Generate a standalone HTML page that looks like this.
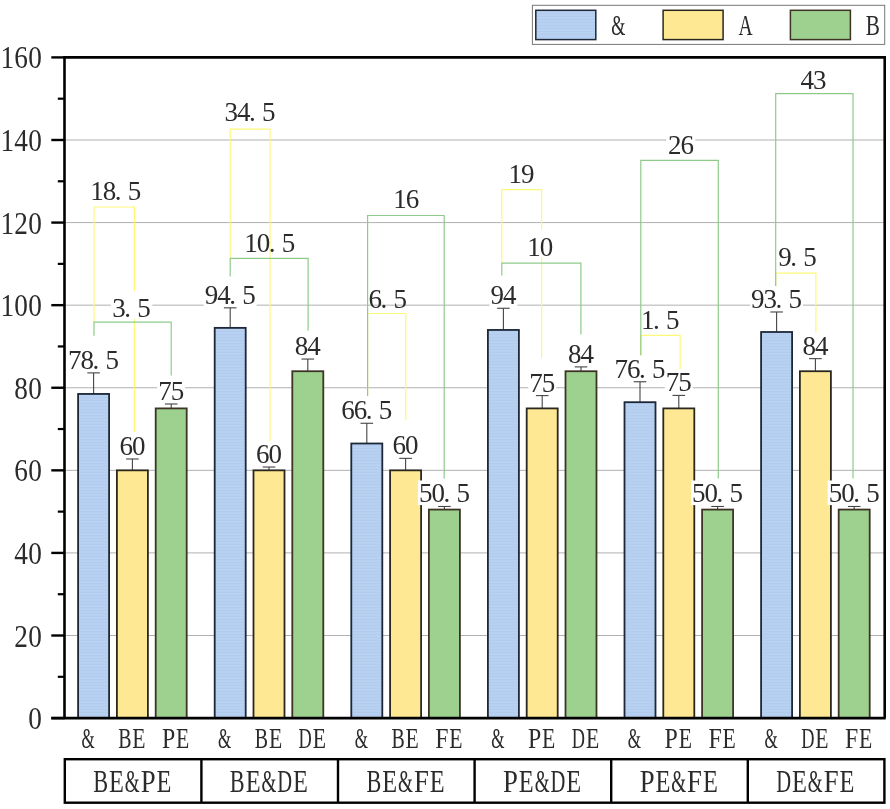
<!DOCTYPE html>
<html><head><meta charset="utf-8"><title>chart</title>
<style>html,body{margin:0;padding:0;background:#fff}svg{display:block;filter:blur(0.4px)}</style></head>
<body>
<svg width="890" height="809" viewBox="0 0 890 809" font-family="'Liberation Serif', serif">
<defs>
<pattern id="pb" width="4" height="3" patternUnits="userSpaceOnUse"><rect width="4" height="3" fill="#b9d2f2"/><path d="M0 1.5 Q1 0.5 2 1.5 T4 1.5" stroke="#a9c5ea" stroke-width="0.7" fill="none"/></pattern>
<pattern id="pg" width="4" height="4" patternUnits="userSpaceOnUse"><rect width="4" height="4" fill="#9ad28e"/><path d="M0 0H4M0 0V4" stroke="#a4cd90" stroke-width="0.8" fill="none"/></pattern>
</defs>
<rect width="890" height="809" fill="#fff"/>
<line x1="64.8" x2="884.4" y1="635.51" y2="635.51" stroke="#b0b0b0" stroke-width="1"/>
<line x1="64.8" x2="884.4" y1="552.92" y2="552.92" stroke="#b0b0b0" stroke-width="1"/>
<line x1="64.8" x2="884.4" y1="470.34" y2="470.34" stroke="#b0b0b0" stroke-width="1"/>
<line x1="64.8" x2="884.4" y1="387.75" y2="387.75" stroke="#b0b0b0" stroke-width="1"/>
<line x1="64.8" x2="884.4" y1="305.16" y2="305.16" stroke="#b0b0b0" stroke-width="1"/>
<line x1="64.8" x2="884.4" y1="222.58" y2="222.58" stroke="#b0b0b0" stroke-width="1"/>
<line x1="64.8" x2="884.4" y1="139.99" y2="139.99" stroke="#b0b0b0" stroke-width="1"/>
<path d="M94.00 322.00V207.00H134.40V432.00" fill="none" stroke="#fdf878" stroke-width="1.2"/>
<path d="M230.20 258.30V129.20H270.00V442.00" fill="none" stroke="#fdf878" stroke-width="1.2"/>
<path d="M367.60 396.00V313.50H405.80V420.00" fill="none" stroke="#fdf878" stroke-width="1.2"/>
<path d="M501.80 263.00V189.60H541.60V358.00" fill="none" stroke="#fdf878" stroke-width="1.2"/>
<path d="M640.80 355.50V335.40H680.10V373.60" fill="none" stroke="#fdf878" stroke-width="1.2"/>
<path d="M775.70 290.00V273.20H815.90V335.60" fill="none" stroke="#fdf878" stroke-width="1.2"/>
<path d="M94.00 335.80V322.20H171.20V375.50" fill="none" stroke="#8ecb8b" stroke-width="1.2"/>
<path d="M230.20 276.50V258.30H308.10V330.50" fill="none" stroke="#8ecb8b" stroke-width="1.2"/>
<path d="M367.60 396.00V215.50H444.20V478.50" fill="none" stroke="#8ecb8b" stroke-width="1.2"/>
<path d="M501.80 275.60V263.20H580.90V334.50" fill="none" stroke="#8ecb8b" stroke-width="1.2"/>
<path d="M640.80 355.50V160.40H718.30V478.50" fill="none" stroke="#8ecb8b" stroke-width="1.2"/>
<path d="M775.70 290.00V93.60H853.00V478.50" fill="none" stroke="#8ecb8b" stroke-width="1.2"/>
<line x1="93.60" x2="93.60" y1="393.94" y2="372.88" stroke="#444" stroke-width="1.1"/>
<line x1="87.30" x2="99.90" y1="372.88" y2="372.88" stroke="#444" stroke-width="1.1"/>
<rect x="78.10" y="393.94" width="31.0" height="324.16" fill="url(#pb)" stroke="#1d2738" stroke-width="1.8"/>
<rect x="67.10" y="346.88" width="53.00" height="24.6" fill="#fff"/>
<text x="74.85" y="368.88" font-size="27" text-anchor="middle" fill="#2b2b2b">7</text>
<text x="87.35" y="368.88" font-size="27" text-anchor="middle" fill="#2b2b2b">8</text>
<text x="95.98" y="368.88" font-size="27" text-anchor="middle" fill="#2b2b2b">.</text>
<text x="112.35" y="368.88" font-size="27" text-anchor="middle" fill="#2b2b2b">5</text>
<line x1="132.40" x2="132.40" y1="470.34" y2="458.98" stroke="#444" stroke-width="1.1"/>
<line x1="126.10" x2="138.70" y1="458.98" y2="458.98" stroke="#444" stroke-width="1.1"/>
<rect x="116.90" y="470.34" width="31.0" height="247.76" fill="#ffe893" stroke="#2a281e" stroke-width="1.8"/>
<rect x="118.40" y="432.98" width="28.00" height="24.6" fill="#fff"/>
<text x="126.15" y="454.98" font-size="27" text-anchor="middle" fill="#2b2b2b">6</text>
<text x="138.65" y="454.98" font-size="27" text-anchor="middle" fill="#2b2b2b">0</text>
<line x1="171.20" x2="171.20" y1="408.40" y2="403.98" stroke="#444" stroke-width="1.1"/>
<line x1="164.90" x2="177.50" y1="403.98" y2="403.98" stroke="#444" stroke-width="1.1"/>
<rect x="155.70" y="408.40" width="31.0" height="309.70" fill="url(#pg)" stroke="#3e3426" stroke-width="1.8"/>
<rect x="157.20" y="377.98" width="28.00" height="24.6" fill="#fff"/>
<text x="164.95" y="399.98" font-size="27" text-anchor="middle" fill="#2b2b2b">7</text>
<text x="177.45" y="399.98" font-size="27" text-anchor="middle" fill="#2b2b2b">5</text>
<line x1="230.20" x2="230.20" y1="327.87" y2="307.85" stroke="#444" stroke-width="1.1"/>
<line x1="223.90" x2="236.50" y1="307.85" y2="307.85" stroke="#444" stroke-width="1.1"/>
<rect x="214.70" y="327.87" width="31.0" height="390.23" fill="url(#pb)" stroke="#1d2738" stroke-width="1.8"/>
<rect x="203.70" y="281.85" width="53.00" height="24.6" fill="#fff"/>
<text x="211.45" y="303.85" font-size="27" text-anchor="middle" fill="#2b2b2b">9</text>
<text x="223.95" y="303.85" font-size="27" text-anchor="middle" fill="#2b2b2b">4</text>
<text x="232.58" y="303.85" font-size="27" text-anchor="middle" fill="#2b2b2b">.</text>
<text x="248.95" y="303.85" font-size="27" text-anchor="middle" fill="#2b2b2b">5</text>
<line x1="269.00" x2="269.00" y1="470.34" y2="467.03" stroke="#444" stroke-width="1.1"/>
<line x1="262.70" x2="275.30" y1="467.03" y2="467.03" stroke="#444" stroke-width="1.1"/>
<rect x="253.50" y="470.34" width="31.0" height="247.76" fill="#ffe893" stroke="#2a281e" stroke-width="1.8"/>
<rect x="255.00" y="441.03" width="28.00" height="24.6" fill="#fff"/>
<text x="262.75" y="463.03" font-size="27" text-anchor="middle" fill="#2b2b2b">6</text>
<text x="275.25" y="463.03" font-size="27" text-anchor="middle" fill="#2b2b2b">0</text>
<line x1="307.80" x2="307.80" y1="371.23" y2="359.05" stroke="#444" stroke-width="1.1"/>
<line x1="301.50" x2="314.10" y1="359.05" y2="359.05" stroke="#444" stroke-width="1.1"/>
<rect x="292.30" y="371.23" width="31.0" height="346.87" fill="url(#pg)" stroke="#3e3426" stroke-width="1.8"/>
<rect x="293.80" y="333.05" width="28.00" height="24.6" fill="#fff"/>
<text x="301.55" y="355.05" font-size="27" text-anchor="middle" fill="#2b2b2b">8</text>
<text x="314.05" y="355.05" font-size="27" text-anchor="middle" fill="#2b2b2b">4</text>
<line x1="366.80" x2="366.80" y1="443.50" y2="423.26" stroke="#444" stroke-width="1.1"/>
<line x1="360.50" x2="373.10" y1="423.26" y2="423.26" stroke="#444" stroke-width="1.1"/>
<rect x="351.30" y="443.50" width="31.0" height="274.60" fill="url(#pb)" stroke="#1d2738" stroke-width="1.8"/>
<rect x="340.30" y="397.26" width="53.00" height="24.6" fill="#fff"/>
<text x="348.05" y="419.26" font-size="27" text-anchor="middle" fill="#2b2b2b">6</text>
<text x="360.55" y="419.26" font-size="27" text-anchor="middle" fill="#2b2b2b">6</text>
<text x="369.18" y="419.26" font-size="27" text-anchor="middle" fill="#2b2b2b">.</text>
<text x="385.55" y="419.26" font-size="27" text-anchor="middle" fill="#2b2b2b">5</text>
<line x1="405.60" x2="405.60" y1="470.34" y2="458.36" stroke="#444" stroke-width="1.1"/>
<line x1="399.30" x2="411.90" y1="458.36" y2="458.36" stroke="#444" stroke-width="1.1"/>
<rect x="390.10" y="470.34" width="31.0" height="247.76" fill="#ffe893" stroke="#2a281e" stroke-width="1.8"/>
<rect x="391.60" y="432.36" width="28.00" height="24.6" fill="#fff"/>
<text x="399.35" y="454.36" font-size="27" text-anchor="middle" fill="#2b2b2b">6</text>
<text x="411.85" y="454.36" font-size="27" text-anchor="middle" fill="#2b2b2b">0</text>
<line x1="444.40" x2="444.40" y1="509.57" y2="506.47" stroke="#444" stroke-width="1.1"/>
<line x1="438.10" x2="450.70" y1="506.47" y2="506.47" stroke="#444" stroke-width="1.1"/>
<rect x="428.90" y="509.57" width="31.0" height="208.53" fill="url(#pg)" stroke="#3e3426" stroke-width="1.8"/>
<rect x="417.90" y="480.47" width="53.00" height="24.6" fill="#fff"/>
<text x="425.65" y="502.47" font-size="27" text-anchor="middle" fill="#2b2b2b">5</text>
<text x="438.15" y="502.47" font-size="27" text-anchor="middle" fill="#2b2b2b">0</text>
<text x="446.78" y="502.47" font-size="27" text-anchor="middle" fill="#2b2b2b">.</text>
<text x="463.15" y="502.47" font-size="27" text-anchor="middle" fill="#2b2b2b">5</text>
<line x1="503.40" x2="503.40" y1="329.94" y2="308.26" stroke="#444" stroke-width="1.1"/>
<line x1="497.10" x2="509.70" y1="308.26" y2="308.26" stroke="#444" stroke-width="1.1"/>
<rect x="487.90" y="329.94" width="31.0" height="388.16" fill="url(#pb)" stroke="#1d2738" stroke-width="1.8"/>
<rect x="489.40" y="282.26" width="28.00" height="24.6" fill="#fff"/>
<text x="497.15" y="304.26" font-size="27" text-anchor="middle" fill="#2b2b2b">9</text>
<text x="509.65" y="304.26" font-size="27" text-anchor="middle" fill="#2b2b2b">4</text>
<line x1="542.20" x2="542.20" y1="408.40" y2="395.60" stroke="#444" stroke-width="1.1"/>
<line x1="535.90" x2="548.50" y1="395.60" y2="395.60" stroke="#444" stroke-width="1.1"/>
<rect x="526.70" y="408.40" width="31.0" height="309.70" fill="#ffe893" stroke="#2a281e" stroke-width="1.8"/>
<rect x="528.20" y="369.60" width="28.00" height="24.6" fill="#fff"/>
<text x="535.95" y="391.60" font-size="27" text-anchor="middle" fill="#2b2b2b">7</text>
<text x="548.45" y="391.60" font-size="27" text-anchor="middle" fill="#2b2b2b">5</text>
<line x1="581.00" x2="581.00" y1="371.23" y2="366.90" stroke="#444" stroke-width="1.1"/>
<line x1="574.70" x2="587.30" y1="366.90" y2="366.90" stroke="#444" stroke-width="1.1"/>
<rect x="565.50" y="371.23" width="31.0" height="346.87" fill="url(#pg)" stroke="#3e3426" stroke-width="1.8"/>
<rect x="567.00" y="340.90" width="28.00" height="24.6" fill="#fff"/>
<text x="574.75" y="362.90" font-size="27" text-anchor="middle" fill="#2b2b2b">8</text>
<text x="587.25" y="362.90" font-size="27" text-anchor="middle" fill="#2b2b2b">4</text>
<line x1="640.00" x2="640.00" y1="402.20" y2="381.76" stroke="#444" stroke-width="1.1"/>
<line x1="633.70" x2="646.30" y1="381.76" y2="381.76" stroke="#444" stroke-width="1.1"/>
<rect x="624.50" y="402.20" width="31.0" height="315.90" fill="url(#pb)" stroke="#1d2738" stroke-width="1.8"/>
<rect x="613.50" y="355.76" width="53.00" height="24.6" fill="#fff"/>
<text x="621.25" y="377.76" font-size="27" text-anchor="middle" fill="#2b2b2b">7</text>
<text x="633.75" y="377.76" font-size="27" text-anchor="middle" fill="#2b2b2b">6</text>
<text x="642.38" y="377.76" font-size="27" text-anchor="middle" fill="#2b2b2b">.</text>
<text x="658.75" y="377.76" font-size="27" text-anchor="middle" fill="#2b2b2b">5</text>
<line x1="678.80" x2="678.80" y1="408.40" y2="395.39" stroke="#444" stroke-width="1.1"/>
<line x1="672.50" x2="685.10" y1="395.39" y2="395.39" stroke="#444" stroke-width="1.1"/>
<rect x="663.30" y="408.40" width="31.0" height="309.70" fill="#ffe893" stroke="#2a281e" stroke-width="1.8"/>
<rect x="664.80" y="369.39" width="28.00" height="24.6" fill="#fff"/>
<text x="672.55" y="391.39" font-size="27" text-anchor="middle" fill="#2b2b2b">7</text>
<text x="685.05" y="391.39" font-size="27" text-anchor="middle" fill="#2b2b2b">5</text>
<line x1="717.60" x2="717.60" y1="509.57" y2="506.47" stroke="#444" stroke-width="1.1"/>
<line x1="711.30" x2="723.90" y1="506.47" y2="506.47" stroke="#444" stroke-width="1.1"/>
<rect x="702.10" y="509.57" width="31.0" height="208.53" fill="url(#pg)" stroke="#3e3426" stroke-width="1.8"/>
<rect x="691.10" y="480.47" width="53.00" height="24.6" fill="#fff"/>
<text x="698.85" y="502.47" font-size="27" text-anchor="middle" fill="#2b2b2b">5</text>
<text x="711.35" y="502.47" font-size="27" text-anchor="middle" fill="#2b2b2b">0</text>
<text x="719.98" y="502.47" font-size="27" text-anchor="middle" fill="#2b2b2b">.</text>
<text x="736.35" y="502.47" font-size="27" text-anchor="middle" fill="#2b2b2b">5</text>
<line x1="776.60" x2="776.60" y1="332.00" y2="311.98" stroke="#444" stroke-width="1.1"/>
<line x1="770.30" x2="782.90" y1="311.98" y2="311.98" stroke="#444" stroke-width="1.1"/>
<rect x="761.10" y="332.00" width="31.0" height="386.10" fill="url(#pb)" stroke="#1d2738" stroke-width="1.8"/>
<rect x="750.10" y="285.98" width="53.00" height="24.6" fill="#fff"/>
<text x="757.85" y="307.98" font-size="27" text-anchor="middle" fill="#2b2b2b">9</text>
<text x="770.35" y="307.98" font-size="27" text-anchor="middle" fill="#2b2b2b">3</text>
<text x="778.98" y="307.98" font-size="27" text-anchor="middle" fill="#2b2b2b">.</text>
<text x="795.35" y="307.98" font-size="27" text-anchor="middle" fill="#2b2b2b">5</text>
<line x1="815.40" x2="815.40" y1="371.23" y2="358.64" stroke="#444" stroke-width="1.1"/>
<line x1="809.10" x2="821.70" y1="358.64" y2="358.64" stroke="#444" stroke-width="1.1"/>
<rect x="799.90" y="371.23" width="31.0" height="346.87" fill="#ffe893" stroke="#2a281e" stroke-width="1.8"/>
<rect x="801.40" y="332.64" width="28.00" height="24.6" fill="#fff"/>
<text x="809.15" y="354.64" font-size="27" text-anchor="middle" fill="#2b2b2b">8</text>
<text x="821.65" y="354.64" font-size="27" text-anchor="middle" fill="#2b2b2b">4</text>
<line x1="854.20" x2="854.20" y1="509.57" y2="506.47" stroke="#444" stroke-width="1.1"/>
<line x1="847.90" x2="860.50" y1="506.47" y2="506.47" stroke="#444" stroke-width="1.1"/>
<rect x="838.70" y="509.57" width="31.0" height="208.53" fill="url(#pg)" stroke="#3e3426" stroke-width="1.8"/>
<rect x="827.70" y="480.47" width="53.00" height="24.6" fill="#fff"/>
<text x="835.45" y="502.47" font-size="27" text-anchor="middle" fill="#2b2b2b">5</text>
<text x="847.95" y="502.47" font-size="27" text-anchor="middle" fill="#2b2b2b">0</text>
<text x="856.58" y="502.47" font-size="27" text-anchor="middle" fill="#2b2b2b">.</text>
<text x="872.95" y="502.47" font-size="27" text-anchor="middle" fill="#2b2b2b">5</text>
<rect x="88.80" y="173.60" width="54.00" height="27.8" fill="#fff"/>
<text x="97.05" y="199.60" font-size="27" text-anchor="middle" fill="#2b2b2b">1</text>
<text x="109.55" y="199.60" font-size="27" text-anchor="middle" fill="#2b2b2b">8</text>
<text x="118.18" y="199.60" font-size="27" text-anchor="middle" fill="#2b2b2b">.</text>
<text x="134.55" y="199.60" font-size="27" text-anchor="middle" fill="#2b2b2b">5</text>
<rect x="110.80" y="291.00" width="41.50" height="27.8" fill="#fff"/>
<text x="119.05" y="317.00" font-size="27" text-anchor="middle" fill="#2b2b2b">3</text>
<text x="127.67" y="317.00" font-size="27" text-anchor="middle" fill="#2b2b2b">.</text>
<text x="144.05" y="317.00" font-size="27" text-anchor="middle" fill="#2b2b2b">5</text>
<rect x="223.00" y="95.20" width="54.00" height="27.8" fill="#fff"/>
<text x="231.25" y="121.20" font-size="27" text-anchor="middle" fill="#2b2b2b">3</text>
<text x="243.75" y="121.20" font-size="27" text-anchor="middle" fill="#2b2b2b">4</text>
<text x="252.38" y="121.20" font-size="27" text-anchor="middle" fill="#2b2b2b">.</text>
<text x="268.75" y="121.20" font-size="27" text-anchor="middle" fill="#2b2b2b">5</text>
<text x="251.05" y="251.70" font-size="27" text-anchor="middle" fill="#2b2b2b">1</text>
<text x="263.55" y="251.70" font-size="27" text-anchor="middle" fill="#2b2b2b">0</text>
<text x="272.18" y="251.70" font-size="27" text-anchor="middle" fill="#2b2b2b">.</text>
<text x="288.55" y="251.70" font-size="27" text-anchor="middle" fill="#2b2b2b">5</text>
<text x="375.30" y="308.00" font-size="27" text-anchor="middle" fill="#2b2b2b">6</text>
<text x="383.92" y="308.00" font-size="27" text-anchor="middle" fill="#2b2b2b">.</text>
<text x="400.30" y="308.00" font-size="27" text-anchor="middle" fill="#2b2b2b">5</text>
<rect x="391.80" y="181.50" width="29.00" height="27.8" fill="#fff"/>
<text x="400.05" y="207.50" font-size="27" text-anchor="middle" fill="#2b2b2b">1</text>
<text x="412.55" y="207.50" font-size="27" text-anchor="middle" fill="#2b2b2b">6</text>
<rect x="506.90" y="157.30" width="29.00" height="27.8" fill="#fff"/>
<text x="515.15" y="183.30" font-size="27" text-anchor="middle" fill="#2b2b2b">1</text>
<text x="527.65" y="183.30" font-size="27" text-anchor="middle" fill="#2b2b2b">9</text>
<rect x="525.70" y="229.70" width="29.00" height="27.8" fill="#fff"/>
<text x="533.95" y="255.70" font-size="27" text-anchor="middle" fill="#2b2b2b">1</text>
<text x="546.45" y="255.70" font-size="27" text-anchor="middle" fill="#2b2b2b">0</text>
<text x="647.85" y="328.80" font-size="27" text-anchor="middle" fill="#2b2b2b">1</text>
<text x="656.47" y="328.80" font-size="27" text-anchor="middle" fill="#2b2b2b">.</text>
<text x="672.85" y="328.80" font-size="27" text-anchor="middle" fill="#2b2b2b">5</text>
<rect x="666.40" y="128.00" width="29.00" height="27.8" fill="#fff"/>
<text x="674.65" y="154.00" font-size="27" text-anchor="middle" fill="#2b2b2b">2</text>
<text x="687.15" y="154.00" font-size="27" text-anchor="middle" fill="#2b2b2b">6</text>
<rect x="776.85" y="240.10" width="41.50" height="27.8" fill="#fff"/>
<text x="785.10" y="266.10" font-size="27" text-anchor="middle" fill="#2b2b2b">9</text>
<text x="793.72" y="266.10" font-size="27" text-anchor="middle" fill="#2b2b2b">.</text>
<text x="810.10" y="266.10" font-size="27" text-anchor="middle" fill="#2b2b2b">5</text>
<rect x="799.05" y="62.50" width="29.00" height="27.8" fill="#fff"/>
<text x="807.30" y="88.50" font-size="27" text-anchor="middle" fill="#2b2b2b">4</text>
<text x="819.80" y="88.50" font-size="27" text-anchor="middle" fill="#2b2b2b">3</text>
<path d="M64.5 718.1V57.4H884.6999999999999V718.1" fill="none" stroke="#000" stroke-width="2.6" stroke-linejoin="miter"/>
<line x1="51.3" x2="885.6999999999999" y1="718.1" y2="718.1" stroke="#000" stroke-width="2.6"/>
<line x1="51.3" x2="64.8" y1="718.10" y2="718.10" stroke="#000" stroke-width="2.4"/>
<text x="28.24" y="729.10" font-size="30.5" textLength="13.62" lengthAdjust="spacingAndGlyphs" fill="#2b2b2b">0</text>
<line x1="57.8" x2="64.8" y1="676.81" y2="676.81" stroke="#000" stroke-width="2.2"/>
<line x1="51.3" x2="64.8" y1="635.51" y2="635.51" stroke="#000" stroke-width="2.4"/>
<text x="14.34" y="646.51" font-size="30.5" textLength="13.62" lengthAdjust="spacingAndGlyphs" fill="#2b2b2b">2</text>
<text x="28.24" y="646.51" font-size="30.5" textLength="13.62" lengthAdjust="spacingAndGlyphs" fill="#2b2b2b">0</text>
<line x1="57.8" x2="64.8" y1="594.22" y2="594.22" stroke="#000" stroke-width="2.2"/>
<line x1="51.3" x2="64.8" y1="552.92" y2="552.92" stroke="#000" stroke-width="2.4"/>
<text x="14.34" y="563.92" font-size="30.5" textLength="13.62" lengthAdjust="spacingAndGlyphs" fill="#2b2b2b">4</text>
<text x="28.24" y="563.92" font-size="30.5" textLength="13.62" lengthAdjust="spacingAndGlyphs" fill="#2b2b2b">0</text>
<line x1="57.8" x2="64.8" y1="511.63" y2="511.63" stroke="#000" stroke-width="2.2"/>
<line x1="51.3" x2="64.8" y1="470.34" y2="470.34" stroke="#000" stroke-width="2.4"/>
<text x="14.34" y="481.34" font-size="30.5" textLength="13.62" lengthAdjust="spacingAndGlyphs" fill="#2b2b2b">6</text>
<text x="28.24" y="481.34" font-size="30.5" textLength="13.62" lengthAdjust="spacingAndGlyphs" fill="#2b2b2b">0</text>
<line x1="57.8" x2="64.8" y1="429.04" y2="429.04" stroke="#000" stroke-width="2.2"/>
<line x1="51.3" x2="64.8" y1="387.75" y2="387.75" stroke="#000" stroke-width="2.4"/>
<text x="14.34" y="398.75" font-size="30.5" textLength="13.62" lengthAdjust="spacingAndGlyphs" fill="#2b2b2b">8</text>
<text x="28.24" y="398.75" font-size="30.5" textLength="13.62" lengthAdjust="spacingAndGlyphs" fill="#2b2b2b">0</text>
<line x1="57.8" x2="64.8" y1="346.46" y2="346.46" stroke="#000" stroke-width="2.2"/>
<line x1="51.3" x2="64.8" y1="305.16" y2="305.16" stroke="#000" stroke-width="2.4"/>
<text x="0.44" y="316.16" font-size="30.5" textLength="13.62" lengthAdjust="spacingAndGlyphs" fill="#2b2b2b">1</text>
<text x="14.34" y="316.16" font-size="30.5" textLength="13.62" lengthAdjust="spacingAndGlyphs" fill="#2b2b2b">0</text>
<text x="28.24" y="316.16" font-size="30.5" textLength="13.62" lengthAdjust="spacingAndGlyphs" fill="#2b2b2b">0</text>
<line x1="57.8" x2="64.8" y1="263.87" y2="263.87" stroke="#000" stroke-width="2.2"/>
<line x1="51.3" x2="64.8" y1="222.58" y2="222.58" stroke="#000" stroke-width="2.4"/>
<text x="0.44" y="233.58" font-size="30.5" textLength="13.62" lengthAdjust="spacingAndGlyphs" fill="#2b2b2b">1</text>
<text x="14.34" y="233.58" font-size="30.5" textLength="13.62" lengthAdjust="spacingAndGlyphs" fill="#2b2b2b">2</text>
<text x="28.24" y="233.58" font-size="30.5" textLength="13.62" lengthAdjust="spacingAndGlyphs" fill="#2b2b2b">0</text>
<line x1="57.8" x2="64.8" y1="181.28" y2="181.28" stroke="#000" stroke-width="2.2"/>
<line x1="51.3" x2="64.8" y1="139.99" y2="139.99" stroke="#000" stroke-width="2.4"/>
<text x="0.44" y="150.99" font-size="30.5" textLength="13.62" lengthAdjust="spacingAndGlyphs" fill="#2b2b2b">1</text>
<text x="14.34" y="150.99" font-size="30.5" textLength="13.62" lengthAdjust="spacingAndGlyphs" fill="#2b2b2b">4</text>
<text x="28.24" y="150.99" font-size="30.5" textLength="13.62" lengthAdjust="spacingAndGlyphs" fill="#2b2b2b">0</text>
<line x1="57.8" x2="64.8" y1="98.69" y2="98.69" stroke="#000" stroke-width="2.2"/>
<line x1="51.3" x2="64.8" y1="57.40" y2="57.40" stroke="#000" stroke-width="2.4"/>
<text x="0.44" y="68.40" font-size="30.5" textLength="13.62" lengthAdjust="spacingAndGlyphs" fill="#2b2b2b">1</text>
<text x="14.34" y="68.40" font-size="30.5" textLength="13.62" lengthAdjust="spacingAndGlyphs" fill="#2b2b2b">6</text>
<text x="28.24" y="68.40" font-size="30.5" textLength="13.62" lengthAdjust="spacingAndGlyphs" fill="#2b2b2b">0</text>
<text x="81.47" y="748.00" font-size="30" textLength="13.25" lengthAdjust="spacingAndGlyphs" fill="#2b2b2b">&amp;</text>
<text x="118.22" y="748.00" font-size="30" textLength="13.25" lengthAdjust="spacingAndGlyphs" fill="#2b2b2b">B</text>
<text x="132.32" y="748.00" font-size="30" textLength="13.25" lengthAdjust="spacingAndGlyphs" fill="#2b2b2b">E</text>
<text x="162.02" y="748.00" font-size="30" textLength="13.25" lengthAdjust="spacingAndGlyphs" fill="#2b2b2b">P</text>
<text x="176.12" y="748.00" font-size="30" textLength="13.25" lengthAdjust="spacingAndGlyphs" fill="#2b2b2b">E</text>
<text x="218.07" y="748.00" font-size="30" textLength="13.25" lengthAdjust="spacingAndGlyphs" fill="#2b2b2b">&amp;</text>
<text x="254.82" y="748.00" font-size="30" textLength="13.25" lengthAdjust="spacingAndGlyphs" fill="#2b2b2b">B</text>
<text x="268.92" y="748.00" font-size="30" textLength="13.25" lengthAdjust="spacingAndGlyphs" fill="#2b2b2b">E</text>
<text x="298.62" y="748.00" font-size="30" textLength="13.25" lengthAdjust="spacingAndGlyphs" fill="#2b2b2b">D</text>
<text x="312.72" y="748.00" font-size="30" textLength="13.25" lengthAdjust="spacingAndGlyphs" fill="#2b2b2b">E</text>
<text x="354.67" y="748.00" font-size="30" textLength="13.25" lengthAdjust="spacingAndGlyphs" fill="#2b2b2b">&amp;</text>
<text x="391.42" y="748.00" font-size="30" textLength="13.25" lengthAdjust="spacingAndGlyphs" fill="#2b2b2b">B</text>
<text x="405.52" y="748.00" font-size="30" textLength="13.25" lengthAdjust="spacingAndGlyphs" fill="#2b2b2b">E</text>
<text x="435.22" y="748.00" font-size="30" textLength="13.25" lengthAdjust="spacingAndGlyphs" fill="#2b2b2b">F</text>
<text x="449.32" y="748.00" font-size="30" textLength="13.25" lengthAdjust="spacingAndGlyphs" fill="#2b2b2b">E</text>
<text x="491.27" y="748.00" font-size="30" textLength="13.25" lengthAdjust="spacingAndGlyphs" fill="#2b2b2b">&amp;</text>
<text x="528.02" y="748.00" font-size="30" textLength="13.25" lengthAdjust="spacingAndGlyphs" fill="#2b2b2b">P</text>
<text x="542.12" y="748.00" font-size="30" textLength="13.25" lengthAdjust="spacingAndGlyphs" fill="#2b2b2b">E</text>
<text x="571.82" y="748.00" font-size="30" textLength="13.25" lengthAdjust="spacingAndGlyphs" fill="#2b2b2b">D</text>
<text x="585.92" y="748.00" font-size="30" textLength="13.25" lengthAdjust="spacingAndGlyphs" fill="#2b2b2b">E</text>
<text x="627.87" y="748.00" font-size="30" textLength="13.25" lengthAdjust="spacingAndGlyphs" fill="#2b2b2b">&amp;</text>
<text x="664.62" y="748.00" font-size="30" textLength="13.25" lengthAdjust="spacingAndGlyphs" fill="#2b2b2b">P</text>
<text x="678.72" y="748.00" font-size="30" textLength="13.25" lengthAdjust="spacingAndGlyphs" fill="#2b2b2b">E</text>
<text x="708.42" y="748.00" font-size="30" textLength="13.25" lengthAdjust="spacingAndGlyphs" fill="#2b2b2b">F</text>
<text x="722.52" y="748.00" font-size="30" textLength="13.25" lengthAdjust="spacingAndGlyphs" fill="#2b2b2b">E</text>
<text x="764.47" y="748.00" font-size="30" textLength="13.25" lengthAdjust="spacingAndGlyphs" fill="#2b2b2b">&amp;</text>
<text x="801.22" y="748.00" font-size="30" textLength="13.25" lengthAdjust="spacingAndGlyphs" fill="#2b2b2b">D</text>
<text x="815.32" y="748.00" font-size="30" textLength="13.25" lengthAdjust="spacingAndGlyphs" fill="#2b2b2b">E</text>
<text x="845.02" y="748.00" font-size="30" textLength="13.25" lengthAdjust="spacingAndGlyphs" fill="#2b2b2b">F</text>
<text x="859.12" y="748.00" font-size="30" textLength="13.25" lengthAdjust="spacingAndGlyphs" fill="#2b2b2b">E</text>
<rect x="64.8" y="759.2" width="819.6" height="43.5" fill="none" stroke="#000" stroke-width="2.4"/>
<line x1="201.40" x2="201.40" y1="759.2" y2="802.7" stroke="#000" stroke-width="2.4"/>
<line x1="338.00" x2="338.00" y1="759.2" y2="802.7" stroke="#000" stroke-width="2.4"/>
<line x1="474.60" x2="474.60" y1="759.2" y2="802.7" stroke="#000" stroke-width="2.4"/>
<line x1="611.20" x2="611.20" y1="759.2" y2="802.7" stroke="#000" stroke-width="2.4"/>
<line x1="747.80" x2="747.80" y1="759.2" y2="802.7" stroke="#000" stroke-width="2.4"/>
<text x="93.25" y="791.80" font-size="31" textLength="14.86" lengthAdjust="spacingAndGlyphs" fill="#2b2b2b">B</text>
<text x="109.06" y="791.80" font-size="31" textLength="14.86" lengthAdjust="spacingAndGlyphs" fill="#2b2b2b">E</text>
<text x="124.87" y="791.80" font-size="31" textLength="14.86" lengthAdjust="spacingAndGlyphs" fill="#2b2b2b">&amp;</text>
<text x="140.68" y="791.80" font-size="31" textLength="14.86" lengthAdjust="spacingAndGlyphs" fill="#2b2b2b">P</text>
<text x="156.49" y="791.80" font-size="31" textLength="14.86" lengthAdjust="spacingAndGlyphs" fill="#2b2b2b">E</text>
<text x="229.85" y="791.80" font-size="31" textLength="14.86" lengthAdjust="spacingAndGlyphs" fill="#2b2b2b">B</text>
<text x="245.66" y="791.80" font-size="31" textLength="14.86" lengthAdjust="spacingAndGlyphs" fill="#2b2b2b">E</text>
<text x="261.47" y="791.80" font-size="31" textLength="14.86" lengthAdjust="spacingAndGlyphs" fill="#2b2b2b">&amp;</text>
<text x="277.28" y="791.80" font-size="31" textLength="14.86" lengthAdjust="spacingAndGlyphs" fill="#2b2b2b">D</text>
<text x="293.09" y="791.80" font-size="31" textLength="14.86" lengthAdjust="spacingAndGlyphs" fill="#2b2b2b">E</text>
<text x="366.45" y="791.80" font-size="31" textLength="14.86" lengthAdjust="spacingAndGlyphs" fill="#2b2b2b">B</text>
<text x="382.26" y="791.80" font-size="31" textLength="14.86" lengthAdjust="spacingAndGlyphs" fill="#2b2b2b">E</text>
<text x="398.07" y="791.80" font-size="31" textLength="14.86" lengthAdjust="spacingAndGlyphs" fill="#2b2b2b">&amp;</text>
<text x="413.88" y="791.80" font-size="31" textLength="14.86" lengthAdjust="spacingAndGlyphs" fill="#2b2b2b">F</text>
<text x="429.69" y="791.80" font-size="31" textLength="14.86" lengthAdjust="spacingAndGlyphs" fill="#2b2b2b">E</text>
<text x="503.05" y="791.80" font-size="31" textLength="14.86" lengthAdjust="spacingAndGlyphs" fill="#2b2b2b">P</text>
<text x="518.86" y="791.80" font-size="31" textLength="14.86" lengthAdjust="spacingAndGlyphs" fill="#2b2b2b">E</text>
<text x="534.67" y="791.80" font-size="31" textLength="14.86" lengthAdjust="spacingAndGlyphs" fill="#2b2b2b">&amp;</text>
<text x="550.48" y="791.80" font-size="31" textLength="14.86" lengthAdjust="spacingAndGlyphs" fill="#2b2b2b">D</text>
<text x="566.29" y="791.80" font-size="31" textLength="14.86" lengthAdjust="spacingAndGlyphs" fill="#2b2b2b">E</text>
<text x="639.65" y="791.80" font-size="31" textLength="14.86" lengthAdjust="spacingAndGlyphs" fill="#2b2b2b">P</text>
<text x="655.46" y="791.80" font-size="31" textLength="14.86" lengthAdjust="spacingAndGlyphs" fill="#2b2b2b">E</text>
<text x="671.27" y="791.80" font-size="31" textLength="14.86" lengthAdjust="spacingAndGlyphs" fill="#2b2b2b">&amp;</text>
<text x="687.08" y="791.80" font-size="31" textLength="14.86" lengthAdjust="spacingAndGlyphs" fill="#2b2b2b">F</text>
<text x="702.89" y="791.80" font-size="31" textLength="14.86" lengthAdjust="spacingAndGlyphs" fill="#2b2b2b">E</text>
<text x="776.25" y="791.80" font-size="31" textLength="14.86" lengthAdjust="spacingAndGlyphs" fill="#2b2b2b">D</text>
<text x="792.06" y="791.80" font-size="31" textLength="14.86" lengthAdjust="spacingAndGlyphs" fill="#2b2b2b">E</text>
<text x="807.87" y="791.80" font-size="31" textLength="14.86" lengthAdjust="spacingAndGlyphs" fill="#2b2b2b">&amp;</text>
<text x="823.68" y="791.80" font-size="31" textLength="14.86" lengthAdjust="spacingAndGlyphs" fill="#2b2b2b">F</text>
<text x="839.49" y="791.80" font-size="31" textLength="14.86" lengthAdjust="spacingAndGlyphs" fill="#2b2b2b">E</text>
<rect x="532.4" y="5.3" width="352.30000000000007" height="39.1" fill="#fff" stroke="#777" stroke-width="1"/>
<rect x="535.80" y="10.3" width="60" height="29.3" fill="url(#pb)" stroke="#1d2738" stroke-width="1.5"/>
<text x="611.25" y="35.20" font-size="29.5" textLength="14.14" lengthAdjust="spacingAndGlyphs" fill="#2b2b2b">&amp;</text>
<rect x="663.10" y="10.3" width="60" height="29.3" fill="#ffe893" stroke="#2a281e" stroke-width="1.5"/>
<text x="738.55" y="35.20" font-size="29.5" textLength="14.14" lengthAdjust="spacingAndGlyphs" fill="#2b2b2b">A</text>
<rect x="790.40" y="10.3" width="60" height="29.3" fill="url(#pg)" stroke="#3e3426" stroke-width="1.5"/>
<text x="865.85" y="35.20" font-size="29.5" textLength="14.14" lengthAdjust="spacingAndGlyphs" fill="#2b2b2b">B</text>
</svg>
</body></html>
